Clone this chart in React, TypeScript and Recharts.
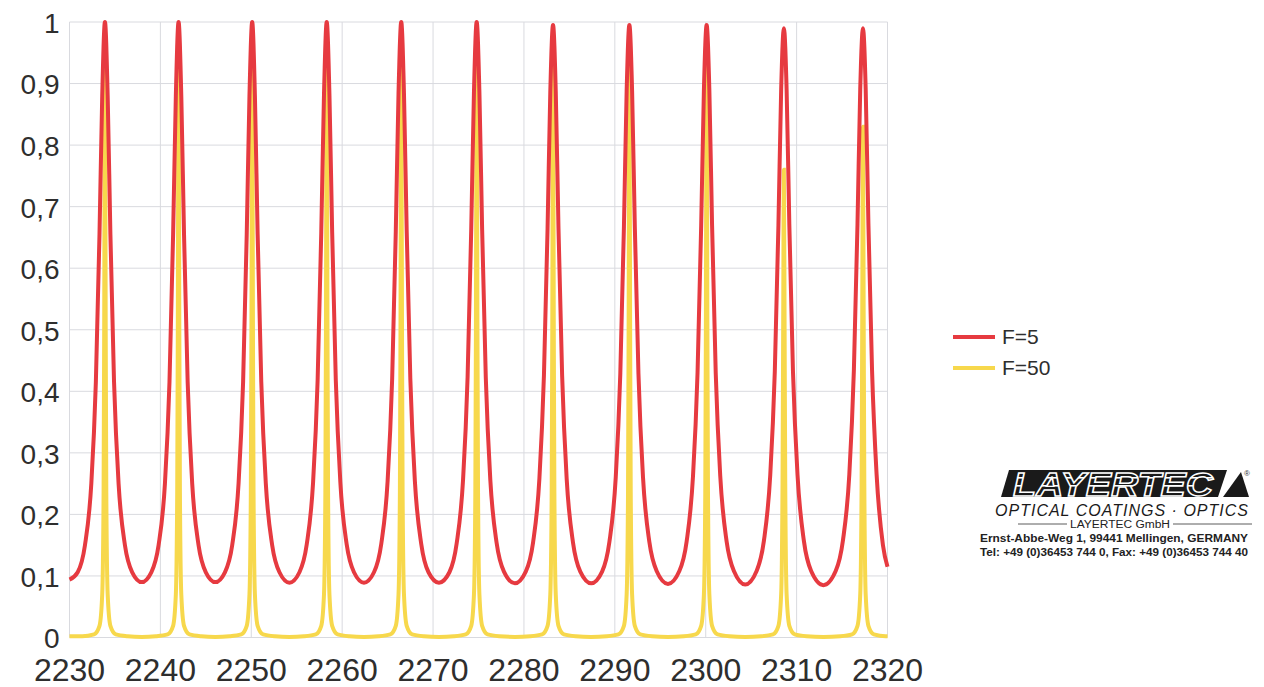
import { LineChart, Line, XAxis, YAxis, CartesianGrid } from "recharts";

// Fabry-Perot transmission for two finesse values, wavelength in nm
const wavelengthTicks = [2230, 2240, 2250, 2260, 2270, 2280, 2290, 2300, 2310, 2320];
const transmissionTicks = [0, 0.1, 0.2, 0.3, 0.4, 0.5, 0.6, 0.7, 0.8, 0.9, 1];

const seriesNames = ["F=5", "F=50"];
const seriesColors = ["#e63a40", "#f7d84c"];

// [wavelength, transmission]
const f5Trace: [number, number][] = [
  [2230, 0.094],
  [2230.9, 0.106], [2231.7, 0.15], [2232.4, 0.25], [2232.9, 0.415], [2233.3, 0.655], [2233.6, 0.88], [2233.9, 1],
  [2234.2, 0.88], [2234.5, 0.655], [2234.9, 0.415], [2235.4, 0.25], [2236.1, 0.15], [2236.9, 0.106], [2237.95, 0.09],
  [2239.0, 0.106], [2239.8, 0.15], [2240.5, 0.25], [2241.0, 0.415], [2241.4, 0.655], [2241.7, 0.88], [2242.0, 1],
  [2242.3, 0.88], [2242.6, 0.655], [2243.0, 0.415], [2243.5, 0.25], [2244.2, 0.15], [2245.0, 0.106], [2246.05, 0.09],
  [2247.1, 0.106], [2247.9, 0.15], [2248.6, 0.25], [2249.1, 0.415], [2249.5, 0.655], [2249.8, 0.88], [2250.1, 1],
  [2250.4, 0.88], [2250.7, 0.655], [2251.1, 0.415], [2251.6, 0.25], [2252.3, 0.15], [2253.1, 0.106], [2254.2, 0.089],
  [2255.3, 0.106], [2256.1, 0.151], [2256.8, 0.252], [2257.3, 0.418], [2257.7, 0.658], [2258.0, 0.882], [2258.3, 1],
  [2258.6, 0.882], [2258.9, 0.658], [2259.3, 0.418], [2259.8, 0.252], [2260.5, 0.151], [2261.3, 0.106], [2262.4, 0.089],
  [2263.5, 0.106], [2264.3, 0.152], [2265.0, 0.254], [2265.5, 0.42], [2265.9, 0.66], [2266.2, 0.884], [2266.5, 1],
  [2266.8, 0.884], [2267.1, 0.66], [2267.5, 0.42], [2268.0, 0.254], [2268.7, 0.152], [2269.5, 0.106], [2270.65, 0.089],
  [2271.8, 0.106], [2272.6, 0.153], [2273.3, 0.256], [2273.8, 0.423], [2274.2, 0.663], [2274.5, 0.886], [2274.8, 1],
  [2275.1, 0.886], [2275.4, 0.663], [2275.8, 0.423], [2276.3, 0.256], [2277.0, 0.153], [2277.8, 0.107], [2279.0, 0.088],
  [2280.2, 0.107], [2281.0, 0.154], [2281.7, 0.258], [2282.2, 0.426], [2282.6, 0.665], [2282.9, 0.887], [2283.2, 0.995],
  [2283.5, 0.887], [2283.8, 0.665], [2284.2, 0.426], [2284.7, 0.258], [2285.4, 0.154], [2286.2, 0.107], [2287.4, 0.088],
  [2288.6, 0.107], [2289.4, 0.155], [2290.1, 0.26], [2290.6, 0.428], [2291.0, 0.667], [2291.3, 0.888], [2291.6, 0.995],
  [2291.9, 0.888], [2292.2, 0.667], [2292.6, 0.428], [2293.1, 0.26], [2293.8, 0.155], [2294.6, 0.108], [2295.85, 0.087],
  [2297.1, 0.108], [2297.9, 0.156], [2298.6, 0.262], [2299.1, 0.43], [2299.5, 0.669], [2299.8, 0.889], [2300.1, 0.995],
  [2300.4, 0.889], [2300.7, 0.669], [2301.1, 0.43], [2301.6, 0.262], [2302.3, 0.156], [2303.1, 0.108], [2304.35, 0.086],
  [2305.6, 0.108], [2306.4, 0.157], [2307.1, 0.264], [2307.6, 0.432], [2308.0, 0.67], [2308.3, 0.89], [2308.6, 0.99],
  [2308.9, 0.89], [2309.2, 0.67], [2309.6, 0.432], [2310.1, 0.264], [2310.8, 0.157], [2311.6, 0.108], [2312.95, 0.085],
  [2314.3, 0.108], [2315.1, 0.158], [2315.8, 0.265], [2316.3, 0.434], [2316.7, 0.672], [2317.0, 0.891], [2317.3, 0.99],
  [2317.6, 0.891], [2317.9, 0.672], [2318.3, 0.434], [2318.8, 0.265], [2319.5, 0.15], [2320, 0.115],
];

const f50Trace: [number, number][] = [
  [2230, 0.002],
  [2231.4, 0.002], [2232.7, 0.005], [2233.3, 0.019], [2233.6, 0.07], [2233.75, 0.235], [2233.82, 0.52], [2233.9, 0.97],
  [2233.98, 0.52], [2234.05, 0.235], [2234.2, 0.07], [2234.5, 0.019], [2235.1, 0.005], [2236.4, 0.002], [2237.95, 0.001],
  [2239.5, 0.002], [2240.8, 0.005], [2241.4, 0.019], [2241.7, 0.07], [2241.85, 0.235], [2241.92, 0.52], [2242.0, 0.97],
  [2242.08, 0.52], [2242.15, 0.235], [2242.3, 0.07], [2242.6, 0.019], [2243.2, 0.005], [2244.5, 0.002], [2246.05, 0.001],
  [2247.6, 0.002], [2248.9, 0.005], [2249.5, 0.019], [2249.8, 0.07], [2249.95, 0.235], [2250.02, 0.52], [2250.1, 0.97],
  [2250.18, 0.52], [2250.25, 0.235], [2250.4, 0.07], [2250.7, 0.019], [2251.3, 0.005], [2252.6, 0.002], [2254.2, 0.001],
  [2255.8, 0.002], [2257.1, 0.005], [2257.7, 0.019], [2258.0, 0.07], [2258.15, 0.235], [2258.22, 0.52], [2258.3, 0.97],
  [2258.38, 0.52], [2258.45, 0.235], [2258.6, 0.07], [2258.9, 0.019], [2259.5, 0.005], [2260.8, 0.002], [2262.4, 0.001],
  [2264.0, 0.002], [2265.3, 0.005], [2265.9, 0.019], [2266.2, 0.07], [2266.35, 0.235], [2266.42, 0.52], [2266.5, 0.97],
  [2266.58, 0.52], [2266.65, 0.235], [2266.8, 0.07], [2267.1, 0.019], [2267.7, 0.005], [2269.0, 0.002], [2270.65, 0.001],
  [2272.3, 0.002], [2273.6, 0.005], [2274.2, 0.019], [2274.5, 0.07], [2274.65, 0.235], [2274.72, 0.52], [2274.8, 0.97],
  [2274.88, 0.52], [2274.95, 0.235], [2275.1, 0.07], [2275.4, 0.019], [2276.0, 0.005], [2277.3, 0.002], [2279.0, 0.001],
  [2280.7, 0.002], [2282.0, 0.005], [2282.6, 0.019], [2282.9, 0.07], [2283.05, 0.235], [2283.12, 0.52], [2283.2, 0.96],
  [2283.28, 0.52], [2283.35, 0.235], [2283.5, 0.07], [2283.8, 0.019], [2284.4, 0.005], [2285.7, 0.002], [2287.4, 0.001],
  [2289.1, 0.002], [2290.4, 0.005], [2291.0, 0.019], [2291.3, 0.07], [2291.45, 0.235], [2291.52, 0.52], [2291.6, 0.96],
  [2291.68, 0.52], [2291.75, 0.235], [2291.9, 0.07], [2292.2, 0.019], [2292.8, 0.005], [2294.1, 0.002], [2295.85, 0.001],
  [2297.6, 0.002], [2298.9, 0.005], [2299.5, 0.019], [2299.8, 0.07], [2299.95, 0.235], [2300.02, 0.52], [2300.1, 0.96],
  [2300.18, 0.52], [2300.25, 0.235], [2300.4, 0.07], [2300.7, 0.019], [2301.3, 0.005], [2302.6, 0.002], [2304.35, 0.001],
  [2306.1, 0.002], [2307.4, 0.005], [2308.0, 0.019], [2308.3, 0.07], [2308.45, 0.25], [2308.52, 0.5], [2308.6, 0.76],
  [2308.68, 0.5], [2308.75, 0.25], [2308.9, 0.07], [2309.2, 0.019], [2309.8, 0.005], [2311.1, 0.002], [2312.95, 0.001],
  [2314.8, 0.002], [2316.1, 0.005], [2316.7, 0.019], [2317.0, 0.07], [2317.15, 0.25], [2317.22, 0.52], [2317.3, 0.83],
  [2317.38, 0.52], [2317.45, 0.25], [2317.6, 0.07], [2317.9, 0.019], [2318.5, 0.005], [2319.8, 0.002], [2320, 0.002],
];

const toRows = (trace: [number, number][]) => trace.map(([nm, t]) => ({ nm, t }));

const FONT = '"Liberation Sans", Arial, sans-serif';
const TEXT = "#2e2e2e";

const Logo = () => (
  <svg width={285} height={105} style={{ position: "absolute", left: 975, top: 462 }}>
    <defs>
      <clipPath id="logo-letters">
        <text
          x={38}
          y={34}
          fontFamily={FONT}
          fontWeight={900}
          fontStyle="italic"
          fontSize={33}
          textLength={200}
          lengthAdjust="spacingAndGlyphs"
        >
          LAYERTEC
        </text>
      </clipPath>
    </defs>
    <polygon points="34,8 252,8 243,35 26,35" fill="#1a1a1a" />
    <g clipPath="url(#logo-letters)">
      <rect x={30} y={5} width={220} height={32} fill="#1a1a1a" />
      <rect x={30} y={15} width={220} height={1.6} fill="#fff" />
      <rect x={30} y={23} width={220} height={1.6} fill="#fff" />
    </g>
    <text
      x={38}
      y={34}
      fontFamily={FONT}
      fontWeight={900}
      fontStyle="italic"
      fontSize={33}
      textLength={200}
      lengthAdjust="spacingAndGlyphs"
      fill="none"
      stroke="#fff"
      strokeWidth={1.4}
    >
      LAYERTEC
    </text>
    <polygon points="248,35 274,35 266,10" fill="#1a1a1a" />
    <text x={269} y={14} fontFamily={FONT} fontSize={8} fill="#333">
      ®
    </text>
    <text
      x={20}
      y={54}
      fontFamily={FONT}
      fontStyle="italic"
      fontSize={16}
      textLength={253}
      lengthAdjust="spacing"
      fill="#1a1a1a"
    >
      OPTICAL COATINGS · OPTICS
    </text>
    <line x1={43} x2={92} y1={62} y2={62} stroke="#333" strokeWidth={0.8} />
    <line x1={198} x2={277} y1={62} y2={62} stroke="#333" strokeWidth={0.8} />
    <text
      x={95}
      y={66}
      fontFamily={FONT}
      fontSize={10}
      textLength={100}
      lengthAdjust="spacingAndGlyphs"
      fill="#222"
    >
      LAYERTEC GmbH
    </text>
    <text
      x={5}
      y={80}
      fontFamily={FONT}
      fontWeight={700}
      fontSize={11}
      textLength={268}
      lengthAdjust="spacingAndGlyphs"
      fill="#222"
    >
      Ernst-Abbe-Weg 1, 99441 Mellingen, GERMANY
    </text>
    <text
      x={5}
      y={94}
      fontFamily={FONT}
      fontWeight={700}
      fontSize={11}
      textLength={268}
      lengthAdjust="spacingAndGlyphs"
      fill="#222"
    >
      Tel: +49 (0)36453 744 0, Fax: +49 (0)36453 744 40
    </text>
  </svg>
);

export default function App() {
  const traces = [f5Trace, f50Trace];

  return (
    <div
      style={{
        position: "absolute",
        left: 0,
        top: 0,
        width: 1264,
        height: 687,
        background: "#fff",
        fontFamily: FONT,
      }}
    >
      <LineChart width={1264} height={687} margin={{ top: 22, right: 376.5, bottom: 0, left: 0 }}>
        <CartesianGrid stroke="#d9dadf" strokeWidth={1} />
        <XAxis
          type="number"
          dataKey="nm"
          domain={[2230, 2320]}
          ticks={wavelengthTicks}
          height={49.5}
          axisLine={false}
          tickLine={false}
          tickSize={0}
          tickMargin={21}
          tick={{ fontSize: 32, fill: TEXT, fontFamily: FONT }}
          interval={0}
        />
        <YAxis
          type="number"
          domain={[0, 1]}
          ticks={transmissionTicks}
          width={69.5}
          axisLine={false}
          tickLine={false}
          tickSize={0}
          tickMargin={10}
          tick={{ fontSize: 28, fill: TEXT, fontFamily: FONT, dy: 1 }}
          tickFormatter={(v: number) => String(v).replace(".", ",")}
          interval={0}
        />
        {/* F=50 underneath, F=5 on top */}
        {[1, 0].map((i) => (
          <Line
            key={seriesNames[i]}
            name={seriesNames[i]}
            data={toRows(traces[i])}
            dataKey="t"
            type="monotone"
            stroke={seriesColors[i]}
            strokeWidth={4}
            dot={false}
            activeDot={false}
            isAnimationActive={false}
          />
        ))}
      </LineChart>

      <div style={{ position: "absolute", left: 953, top: 321 }}>
        {seriesNames.map((name, i) => (
          <div key={name} style={{ display: "flex", alignItems: "center", height: 31 }}>
            <span style={{ width: 42, height: 4, background: seriesColors[i], display: "inline-block" }} />
            <span style={{ marginLeft: 7, fontSize: 21, color: TEXT }}>{name}</span>
          </div>
        ))}
      </div>

      <Logo />
    </div>
  );
}
